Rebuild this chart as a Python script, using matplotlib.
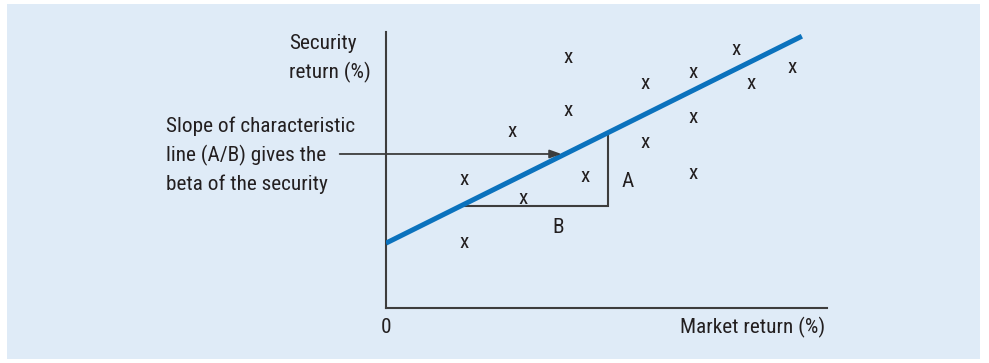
import matplotlib.pyplot as plt
from matplotlib.patches import Rectangle

# Scatter of observed returns (market, security) in arbitrary % units
market_ret = [4.12, 4.12, 2.85, 1.78, 3.12, 4.51, 1.78, 5.88, 5.88, 6.97, 6.97, 6.97, 7.93, 8.27, 9.20]
security_ret = [9.06, 7.17, 6.41, 4.64, 3.95, 4.78, 2.36, 8.15, 5.98, 8.55, 6.92, 4.89, 9.38, 8.15, 8.70]

# Characteristic line: security = alpha + beta * market
alpha = 2.35
beta = 0.795
line_x = [0.0, 9.43]

# Rise-over-run triangle (B = run, A = rise)
tri_x0 = 1.69
tri_x1 = 5.03

BG = "#dfebf7"
BLUE = "#0b72bd"
AXIS = "#3d3d3d"
TEXT = "#231f20"
FONT = ["Liberation Sans Narrow", "Roboto Condensed", "Archivo Narrow", "DejaVu Sans"]
FS = 15.3

fig = plt.figure(figsize=(9.89, 3.63), dpi=100)
fig.patches.append(Rectangle((7 / 989, 4 / 363), 973 / 989, 355 / 363,
                             transform=fig.transFigure, facecolor=BG,
                             edgecolor="none", zorder=-10))

W, H = 989, 363
ax = fig.add_axes([386 / W, (H - 308) / H, (827 - 386) / W, (308 - 32) / H])
ax.set_zorder(5)
ax.set_facecolor("none")
ax.set_xlim(0, 10)
ax.set_ylim(0, 10)
for s in ("top", "right"):
    ax.spines[s].set_visible(False)
for s in ("left", "bottom"):
    ax.spines[s].set_color(AXIS)
    ax.spines[s].set_linewidth(1.5)
ax.set_xticks([])
ax.set_yticks([])

# scatter points drawn as "x" characters
for mx, sy in zip(market_ret, security_ret):
    ax.text(mx, sy, "x", ha="center", va="center", fontsize=FS,
            color=TEXT, family=FONT)

# triangle
ya = alpha + beta * tri_x0
yb = alpha + beta * tri_x1
ax.plot([tri_x0, tri_x1, tri_x1], [ya, ya, yb], color=AXIS, lw=1.5,
        solid_joinstyle="miter", zorder=2)

# characteristic line
ax.plot(line_x, [alpha + beta * x for x in line_x], color=BLUE, lw=3.6,
        solid_capstyle="butt", zorder=3)

# arrow from annotation to the line
arrow_y = 5.58
ax.annotate("", xy=(3.98, arrow_y), xytext=(-1.05, arrow_y),
            arrowprops=dict(arrowstyle="-|>,head_length=0.7,head_width=0.25",
                            color=AXIS, lw=1.3, shrinkA=0, shrinkB=0),
            annotation_clip=False, zorder=4)

ax.text(-4.99, 5.54, "Slope of characteristic\nline (A/B) gives the\nbeta of the security",
        ha="left", va="center", fontsize=FS, color=TEXT, family=FONT,
        linespacing=1.55, clip_on=False)
ax.text(-2.19, 9.05, "Security\nreturn (%)", ha="left", va="center",
        fontsize=FS, color=TEXT, family=FONT, linespacing=1.55, clip_on=False)
ax.text(0.0, -0.7, "0", ha="center", va="center", fontsize=FS, color=TEXT,
        family=FONT, clip_on=False)
ax.text(9.96, -0.7, "Market return (%)", ha="right", va="center", fontsize=FS,
        color=TEXT, family=FONT, clip_on=False)
ax.text(5.47, 4.57, "A", ha="center", va="center", fontsize=FS, color=TEXT,
        family=FONT)
ax.text(3.90, 2.90, "B", ha="center", va="center", fontsize=FS, color=TEXT,
        family=FONT)

fig.savefig("out.png", dpi=100, facecolor="white")
